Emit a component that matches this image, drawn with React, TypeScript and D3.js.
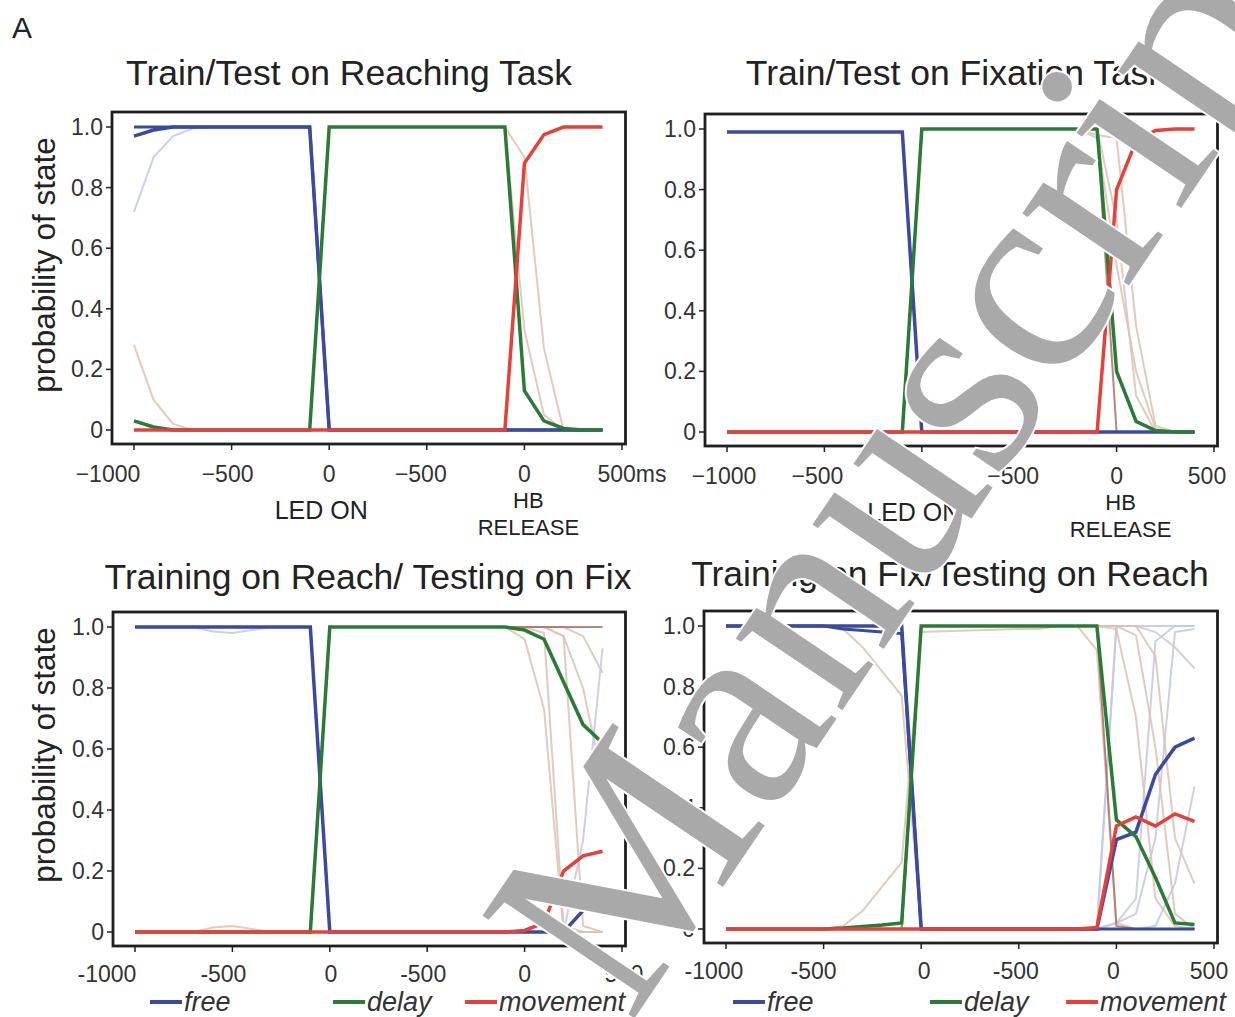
import React from 'react';
import * as d3 from 'd3';

// time bins: LED-aligned segment, then HB-release-aligned segment
const ledTimes = [-1000, -900, -800, -700, -600, -500, -400, -300, -200, -100, 0];
const hbTimes = [-500, -400, -300, -200, -100, 0, 100, 200, 300, 400];
const axisTicks = [0, 500, 1000, 1500, 2000, 2500];
const topTickLabels = ['\u22121000', '\u2212500', '0', '\u2212500', '0', '500ms'];
const topTickLabelsR = ['\u22121000', '\u2212500', '0', '\u2212500', '0', '500'];
const bottomTickLabels = ['-1000', '-500', '0', '-500', '0', '500'];
const yTicks = [0, 0.2, 0.4, 0.6, 0.8, 1.0];
const yTickLabels = ['0', '0.2', '0.4', '0.6', '0.8', '1.0'];
const states = ['free', 'delay', 'movement'];

// Train/Test on Reaching Task
const reachFree = [0.97, 0.99, 1, 1, 1, 1, 1, 1, 1, 1, 0, 0, 0, 0, 0, 0, 0, 0, 0, 0, 0];
const reachFreeAlt = [1, 1, 1, 1, 1, 1, 1, 1, 1, 1, 0, 0, 0, 0, 0, 0, 0, 0, 0, 0, 0];
const reachDelay = [0.03, 0.01, 0, 0, 0, 0, 0, 0, 0, 0, 1, 1, 1, 1, 1, 1, 0.13, 0.03, 0.005, 0, 0];
const reachMove = [0, 0, 0, 0, 0, 0, 0, 0, 0, 0, 0, 0, 0, 0, 0, 0, 0.88, 0.975, 1, 1, 1];
const reachThinA = [0.72, 0.9, 0.97, 0.995, 1, 1, 1, 1, 1, 1, 0, 0, 0, 0, 0, 0, 0, 0, 0, 0, 0];
const reachThinB = [0.28, 0.1, 0.02, 0, 0, 0, 0, 0, 0, 0, 0, 0, 0, 0, 0, 0, 0, 0, 0, 0, 0];
const reachThinC = [0, 0, 0, 0, 0, 0, 0, 0, 0, 0, 1, 1, 1, 1, 1, 1, 0.9, 0.27, 0, 0, 0];
const reachThinD = [0, 0, 0, 0, 0, 0, 0, 0, 0, 0, 1, 1, 1, 1, 1, 1, 0.33, 0.05, 0, 0, 0];

// Train/Test on Fixation Task
const fixFree = [0.99, 0.99, 0.99, 0.99, 0.99, 0.99, 0.99, 0.99, 0.99, 0.99, 0, 0, 0, 0, 0, 0, 0, 0, 0, 0, 0];
const fixDelay = [0, 0, 0, 0, 0, 0, 0, 0, 0, 0, 1, 1, 1, 1, 1, 1, 0.2, 0.035, 0.005, 0, 0];
const fixMove = [0, 0, 0, 0, 0, 0, 0, 0, 0, 0, 0, 0, 0, 0, 0, 0, 0.8, 0.96, 0.995, 1, 1];
const fixThinA = [0, 0, 0, 0, 0, 0, 0, 0, 0, 0, 1, 1, 1, 1, 1, 1, 0, 0, 0, 0, 0];
const fixThinB = [0, 0, 0, 0, 0, 0, 0, 0, 0, 0, 1, 1, 1, 1, 1, 0.98, 0.97, 0.35, 0.02, 0, 0];
const fixThinC = [0, 0, 0, 0, 0, 0, 0, 0, 0, 0, 1, 1, 1, 1, 1, 1, 0.7, 0.12, 0, 0, 0];
const fixThinD = [0, 0, 0, 0, 0, 0, 0, 0, 0, 0, 1, 1, 1, 1, 1, 0.97, 0.55, 0.2, 0.01, 0, 0];

// Training on Reach / Testing on Fix
const rfFree = [1, 1, 1, 1, 1, 1, 1, 1, 1, 1, 0, 0, 0, 0, 0, 0, 0, 0, 0, 0.07, 0.11];
const rfDelay = [0, 0, 0, 0, 0, 0, 0, 0, 0, 0, 1, 1, 1, 1, 1, 1, 0.99, 0.96, 0.82, 0.68, 0.62];
const rfMove = [0, 0, 0, 0, 0, 0, 0, 0, 0, 0, 0, 0, 0, 0, 0, 0, 0.005, 0.03, 0.2, 0.25, 0.265];
const rfThinA = [1, 1, 1, 1, 0.985, 0.98, 0.99, 1, 1, 1, 0, 0, 0, 0, 0, 0, 0, 0, 0, 0, 0];
const rfThinB = [0, 0, 0, 0, 0.015, 0.02, 0.01, 0, 0, 0, 0, 0, 0, 0, 0, 0, 0, 0, 0, 0, 0];
const rfThinC = [0, 0, 0, 0, 0, 0, 0, 0, 0, 0, 1, 1, 1, 1, 1, 1, 1, 1, 1, 1, 1];
const rfThinD = [0, 0, 0, 0, 0, 0, 0, 0, 0, 0, 1, 1, 1, 1, 1, 1, 0.96, 0.73, 0, 0, 0];
const rfThinE = [0, 0, 0, 0, 0, 0, 0, 0, 0, 0, 1, 1, 1, 1, 1, 1, 1, 0.98, 0.02, 0, 0];
const rfThinF = [0, 0, 0, 0, 0, 0, 0, 0, 0, 0, 1, 1, 1, 1, 1, 1, 1, 1, 0.97, 0.02, 0];
const rfThinG = [0, 0, 0, 0, 0, 0, 0, 0, 0, 0, 1, 1, 1, 1, 1, 1, 1, 1, 1, 0.97, 0.85];
const rfThinH = [0, 0, 0, 0, 0, 0, 0, 0, 0, 0, 1, 1, 1, 1, 1, 1, 1, 1, 0.97, 0.8, 0.5];
const rfThinI = [1, 1, 1, 1, 1, 1, 1, 1, 1, 1, 0, 0, 0, 0, 0, 0, 0, 0, 0, 0.3, 0.93];

// Training on Fix / Testing on Reach
const frFree = [1, 1, 1, 1, 1, 1, 1, 1, 1, 1, 0, 0, 0, 0, 0, 0, 0.295, 0.32, 0.51, 0.6, 0.63];
const frFreeAlt = [1, 1, 1, 1, 1, 1, 0.99, 0.985, 0.98, 0.975, 0, 0, 0, 0, 0, 0, 0, 0, 0, 0, 0];
const frDelay = [0, 0, 0, 0, 0, 0, 0.003, 0.008, 0.013, 0.02, 1, 1, 1, 1, 1, 1, 0.36, 0.305, 0.17, 0.02, 0.015];
const frMove = [0, 0, 0, 0, 0, 0, 0, 0, 0, 0, 0, 0, 0, 0, 0, 0.005, 0.34, 0.37, 0.34, 0.38, 0.355];
const frThinA = [0, 0, 0, 0, 0, 0, 0.01, 0.06, 0.14, 0.22, 0.98, 0.99, 0.99, 1, 1, 0.92, 0.02, 0, 0, 0, 0];
const frThinB = [1, 1, 1, 1, 1, 1, 0.99, 0.93, 0.85, 0.77, 0, 0, 0, 0, 0, 0, 0, 0, 0, 0, 0];
const frThinC = [0, 0, 0, 0, 0, 0, 0, 0, 0, 0, 1, 1, 1, 1, 1, 1, 0.01, 0, 0, 0, 0];
const frThinD = [1, 1, 1, 1, 1, 1, 1, 1, 1, 1, 0, 0, 0, 0, 0, 0, 1, 1, 1, 1, 1];
const frThinE = [1, 1, 1, 1, 1, 1, 1, 1, 1, 1, 0, 0, 0, 0, 0, 0, 0.02, 0.1, 0.95, 1, 1];
const frThinF = [1, 1, 1, 1, 1, 1, 1, 1, 1, 1, 0, 0, 0, 0, 0, 0, 0.02, 0.05, 0.3, 0.98, 0.99];
const frThinG = [1, 1, 1, 1, 1, 1, 1, 1, 1, 1, 0, 0, 0, 0, 0, 0, 1, 1, 0.98, 0.93, 0.86];
const frThinH = [1, 1, 1, 1, 1, 1, 1, 1, 1, 1, 0, 0, 0, 0, 0, 0, 0, 0, 0.01, 0.15, 0.47];
const frThinI = [0, 0, 0, 0, 0, 0, 0, 0, 0, 0, 1, 1, 1, 1, 1, 1, 0.99, 0.7, 0.1, 0.01, 0];
const frThinJ = [0, 0, 0, 0, 0, 0, 0, 0, 0, 0, 1, 1, 1, 1, 1, 1, 1, 0.97, 0.6, 0.05, 0];
const frThinK = [0, 0, 0, 0, 0, 0, 0, 0, 0, 0, 1, 1, 1, 1, 1, 1, 1, 1, 0.9, 0.3, 0.15];

const colors = { free: '#3b4a9e', delay: '#2b7a37', movement: '#e5403a' };
const thinColors = { lav: '#c3c8e0', tan: '#dcc2b4', brown: '#a8735f' };

// position of every bin on the joined axis
const positions = [...ledTimes.map((t) => t + 1000), ...hbTimes.map((t) => t + 2000)];

const panels = [
  {
    title: 'Train/Test on Reaching Task', tx: 349, ty: 85, x0: 134, x1: 622, yb: 430, yt: 127,
    labels: topTickLabels, labelShift: [-26, -4, 0, -6, 0, 10], labelDy: 35, top: true, yLabelMid: 265,
    legendAt: null,
    free: reachFree, delay: reachDelay, move: reachMove,
    extraFree: reachFreeAlt,
    thin: [[reachThinA, 'lav'], [reachThinB, 'tan'], [reachThinC, 'tan'], [reachThinD, 'tan']],
  },
  {
    title: 'Train/Test on Fixation Task', tx: 956, ty: 85, x0: 727, x1: 1214, yb: 432, yt: 129,
    labels: topTickLabelsR, labelShift: [-3, -7, 0, -6, 0, -7], labelDy: 35, top: true, yLabelMid: null,
    legendAt: null,
    free: fixFree, delay: fixDelay, move: fixMove,
    thin: [[fixThinB, 'tan'], [fixThinC, 'tan'], [fixThinD, 'tan'], [fixThinA, 'brown']],
  },
  {
    title: 'Training on Reach/ Testing on Fix', tx: 368, ty: 589, x0: 135, x1: 622, yb: 932, yt: 627,
    labels: bottomTickLabels, labelShift: [-28, -9, 1, -4, 0, 2], labelDy: 33, top: false, yLabelMid: 755,
    legendAt: [150, 333, 465],
    free: rfFree, delay: rfDelay, move: rfMove,
    thin: [[rfThinA, 'lav'], [rfThinB, 'tan'], [rfThinD, 'tan'], [rfThinE, 'tan'], [rfThinF, 'tan'],
      [rfThinG, 'tan'], [rfThinH, 'tan'], [rfThinI, 'lav'], [rfThinC, 'brown']],
  },
  {
    title: 'Training on Fix/Testing on Reach', tx: 950, ty: 586, x0: 726, x1: 1214, yb: 929, yt: 626,
    labels: bottomTickLabels, labelShift: [-12, -10, 3, -3, -3, -5], labelDy: 33, top: false, yLabelMid: null,
    legendAt: [733, 930, 1066],
    free: frFree, delay: frDelay, move: frMove,
    extraFree: frFreeAlt,
    thin: [[frThinA, 'tan'], [frThinB, 'tan'], [frThinD, 'lav'], [frThinE, 'lav'], [frThinF, 'lav'],
      [frThinG, 'lav'], [frThinH, 'lav'], [frThinI, 'tan'], [frThinJ, 'tan'], [frThinK, 'tan'],
      [frThinC, 'brown']],
  },
];

const font = '"Liberation Sans", Arial, sans-serif';

function Panel({ p }) {
  const x = d3.scaleLinear().domain([0, 2500]).range([p.x0, p.x1]);
  const y = d3.scaleLinear().domain([0, 1]).range([p.yb, p.yt]);
  const line = d3.line().x((d) => x(d[0])).y((d) => y(d[1]));
  const pts = (vals) => vals.map((v, i) => [positions[i], v]);
  const left = p.x0 - 22;
  const right = p.x1 + 3.5;
  const top = p.yt - 15;
  const bottom = p.yb + 14;
  return (
    <g>
      <text x={p.tx} y={p.ty} textAnchor="middle" fontSize={35.5} fill="#222" fontFamily={font}>{p.title}</text>
      <rect x={left} y={top} width={right - left} height={bottom - top} fill="#fff" />
      {p.thin.map(([vals, c], i) => (
        <path key={i} d={line(pts(vals))} fill="none" stroke={thinColors[c]} strokeWidth={2} opacity={0.85} />
      ))}
      {p.extraFree && (
        <path d={line(pts(p.extraFree))} fill="none" stroke={colors.free} strokeWidth={3} />
      )}
      <path d={line(pts(p.free))} fill="none" stroke={colors.free} strokeWidth={3.5} />
      <path d={line(pts(p.delay))} fill="none" stroke={colors.delay} strokeWidth={3.5} />
      <path d={line(pts(p.move))} fill="none" stroke={colors.movement} strokeWidth={3.5} />
      <rect x={left} y={top} width={right - left} height={bottom - top} fill="none" stroke="#1e1e1e" strokeWidth={2.8} />
      {yTicks.map((v, i) => (
        <g key={i}>
          <line x1={left - 6} x2={left} y1={y(v)} y2={y(v)} stroke="#222" strokeWidth={1.5} />
          <text x={left - 9} y={y(v) + 8} textAnchor="end" fontSize={23} fill="#333" fontFamily={font}>{yTickLabels[i]}</text>
        </g>
      ))}
      {axisTicks.map((v, i) => (
        <g key={i}>
          <line x1={x(v)} x2={x(v)} y1={bottom} y2={bottom + 6} stroke="#222" strokeWidth={1.5} />
          <text x={x(v) + p.labelShift[i]} y={p.yb + p.labelDy + 17} textAnchor="middle" fontSize={23} fill="#333" fontFamily={font}>{p.labels[i]}</text>
        </g>
      ))}
      {p.top && (
        <g fontFamily={font} fill="#222" textAnchor="middle">
          <text x={x(1000) - 8} y={bottom + 75} fontSize={25}>LED ON</text>
          <text x={x(2000) + 4} y={bottom + 64} fontSize={22}>HB</text>
          <text x={x(2000) + 4} y={bottom + 91} fontSize={22}>RELEASE</text>
        </g>
      )}
      {p.yLabelMid && (
        <text transform={`translate(55,${p.yLabelMid}) rotate(-90)`} textAnchor="middle" fontSize={31.5} fill="#222" fontFamily={font}>probability of state</text>
      )}
      {p.legendAt && (
        <g fontFamily={font} fontStyle="italic" fontSize={27} fill="#333">
          {states.map((s, i) => {
            const lx = p.legendAt[i];
            return (
              <g key={s}>
                <line x1={lx} x2={lx + 32} y1={1002} y2={1002} stroke={colors[s]} strokeWidth={4} />
                <text x={lx + 34} y={1011}>{s}</text>
              </g>
            );
          })}
        </g>
      )}
    </g>
  );
}

export default function App() {
  return (
    <svg width={1235} height={1017} style={{ position: 'absolute', left: 0, top: 0 }}>
      <rect width={1235} height={1017} fill="#fff" />
      <text x={12} y={38} fontSize={30} fill="#222" fontFamily={font}>A</text>
      {panels.map((p, i) => <Panel key={i} p={p} />)}
      <text
        transform="translate(630,1025) rotate(-56)"
        fontFamily='"Liberation Serif", "Times New Roman", serif'
        fontSize={280}
        fill="#a9a9a9"
        stroke="#fff"
        strokeWidth={4}
        style={{ paintOrder: 'stroke' }}
      >
        Manuscript
      </text>
    </svg>
  );
}
